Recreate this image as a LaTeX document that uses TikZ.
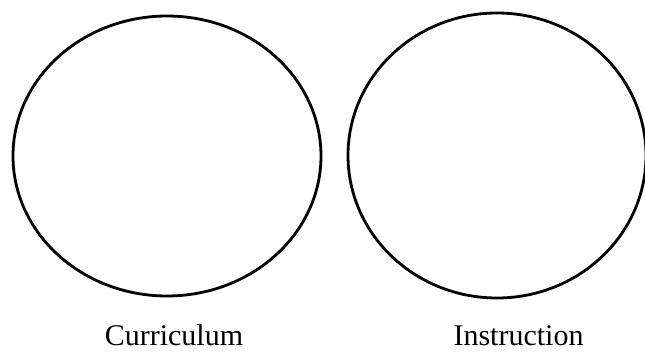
\documentclass[tikz,border=0pt]{standalone}
\usepackage{fontspec}
\setmainfont{Liberation Serif}
\begin{document}
\begin{tikzpicture}[x=1pt,y=-1pt,
  ring/.style={draw=black,line width=2.8pt},
  lbl/.style={font=\fontsize{30}{36}\selectfont,inner sep=0pt,anchor=base}]
\useasboundingbox (0,0) rectangle (645,352);
\draw[ring] (167,156) ellipse [x radius=154, y radius=140];
\draw[ring] (497,155.5) ellipse [x radius=149, y radius=142.5];
\node[lbl] (cur) at (174,346) {Curriculum};
\node[lbl] (ins) at (518.5,346) {Instruction};
\end{tikzpicture}
\end{document}
